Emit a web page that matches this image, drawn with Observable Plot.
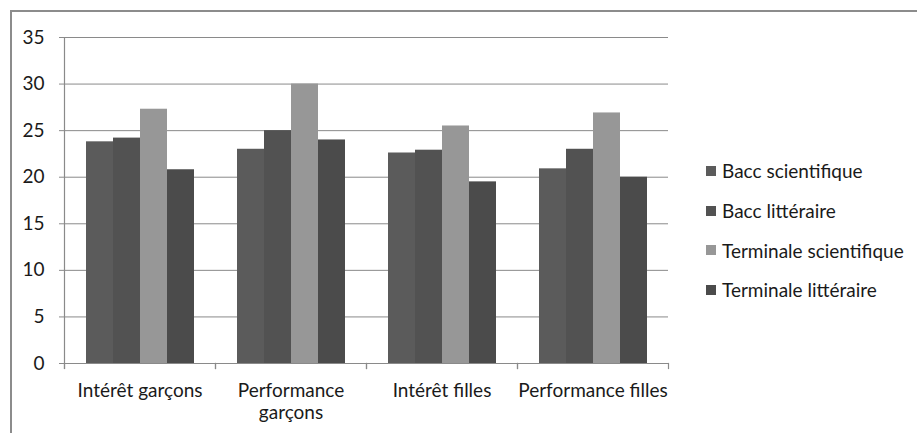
<!DOCTYPE html>
<html>
<head>
<meta charset="utf-8">
<script src="https://cdn.jsdelivr.net/npm/d3@7"></script>
<script src="https://cdn.jsdelivr.net/npm/@observablehq/plot@0.6"></script>
<style>
  html, body { margin: 0; padding: 0; background: #fff; }
  #wrap { position: relative; width: 917px; height: 433px; overflow: hidden; font-family: Lato, sans-serif; color: #1a1a1a; }
  #border { position: absolute; left: 10px; top: 10px; width: 2000px; height: 2000px; border-left: 2px solid #8c8c8c; border-top: 2px solid #8c8c8c; }
  #chart { position: absolute; left: 0; top: 0; }
  #legend { position: absolute; left: 706px; top: 151px; }
  .row { display: flex; align-items: center; height: 39.7px; font-size: 19px; white-space: nowrap; }
  .sw { width: 10px; height: 10px; margin-right: 6px; }
</style>
</head>
<body>
<div id="wrap">
  <div id="border"></div>
  <div id="chart"></div>
  <div id="legend"></div>
</div>
<script>
const categories = ["Intérêt garçons", "Performance garçons", "Intérêt filles", "Performance filles"];
const categoryLabels = ["Intérêt garçons", "Performance\ngarçons", "Intérêt filles", "Performance filles"];
const series = ["Bacc scientifique", "Bacc littéraire", "Terminale scientifique", "Terminale littéraire"];
const baccScientifique = [23.8, 23.0, 22.6, 20.9];
const baccLitteraire = [24.2, 25.0, 22.9, 23.0];
const terminaleScientifique = [27.3, 30.0, 25.5, 26.9];
const terminaleLitteraire = [20.8, 24.0, 19.5, 20.0];
const yTicks = [0, 5, 10, 15, 20, 25, 30, 35];
const colors = ["#5b5b5b", "#525252", "#979797", "#4b4b4b"];

const seriesValues = [baccScientifique, baccLitteraire, terminaleScientifique, terminaleLitteraire];
const data = categories.flatMap((c, i) => series.map((s, j) => ({category: c, series: s, value: seriesValues[j][i]})));

const grey = "#8a8a8a";
const chart = Plot.plot({
  width: 917,
  height: 433,
  marginLeft: 62,
  marginRight: 248,
  marginTop: 37,
  marginBottom: 70,
  style: {fontFamily: "Lato, sans-serif", fontSize: "19px", color: "#1a1a1a", background: "transparent"},
  fx: {domain: categories, padding: 0, axis: null, label: null},
  x: {domain: series, paddingInner: 0, paddingOuter: 0.764, axis: null},
  y: {domain: [0, 35], axis: null},
  color: {domain: series, range: colors},
  marks: [
    Plot.gridY(yTicks, {stroke: grey, strokeOpacity: 1, strokeWidth: 1}),
    Plot.barY(data, {fx: "category", x: "series", y: "value", fill: "series"}),
    Plot.frame({anchor: "left", facetAnchor: "left", stroke: grey, strokeWidth: 1.2, insetBottom: -5}),
    Plot.frame({anchor: "left", stroke: grey, strokeWidth: 1.2, insetTop: 326, insetBottom: -5}),
    Plot.frame({anchor: "right", stroke: grey, strokeWidth: 1.2, insetTop: 326, insetBottom: -5}),
    Plot.axisY(yTicks, {tickSize: 5, tickPadding: 15, fontSize: 19, stroke: grey, fill: "#1a1a1a", label: null, tickFormat: d => String(d)}),
    Plot.axisFx({anchor: "bottom", tickSize: 0, tickPadding: 18, fontSize: 19, fill: "#1a1a1a", label: null, lineHeight: 1.15,
      tickFormat: d => categoryLabels[categories.indexOf(d)]})
  ]
});
document.getElementById("chart").appendChild(chart);

const legend = document.getElementById("legend");
series.forEach((s, j) => {
  const row = document.createElement("div");
  row.className = "row";
  const sw = document.createElement("span");
  sw.className = "sw";
  sw.style.background = colors[j];
  const t = document.createElement("span");
  t.textContent = s;
  row.appendChild(sw);
  row.appendChild(t);
  legend.appendChild(row);
});
</script>
</body>
</html>
